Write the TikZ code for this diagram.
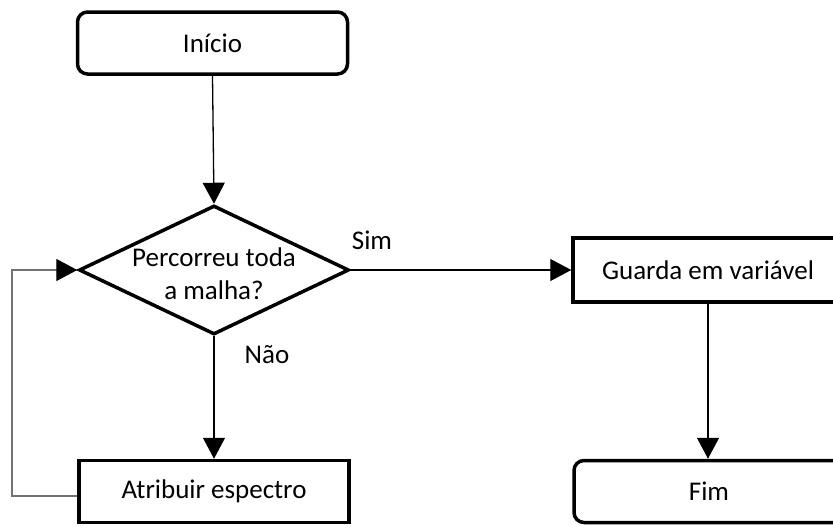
\documentclass[tikz,border=0pt]{standalone}
\usepackage{fontspec}
\setmainfont{Carlito}
\usetikzlibrary{shapes.geometric,arrows.meta}
\begin{document}
\begin{tikzpicture}[x=1pt,y=-1pt,
  font=\fontsize{27}{33}\selectfont,
  box/.style={draw, line width=3.5pt, fill=white, rectangle, minimum width=270pt, minimum height=62pt, inner sep=0pt},
  roundbox/.style={box, rounded corners=10pt},
  decision/.style={draw, line width=3.5pt, fill=white, diamond, minimum width=270pt, minimum height=129pt, inner sep=0pt},
  flow/.style={line width=1.3pt, -{Triangle[length=21pt,width=22pt,color=black]}},
  loopline/.style={flow, draw=black!55},
  tag/.style={inner sep=0pt}]
\useasboundingbox (0,0) rectangle (833,525);
\clip (0,0) rectangle (833,525);

\node[roundbox] (start) at (212.5,43) {Início};
\node[decision, label={[align=center, yshift=-4pt]center:Percorreu toda\\a malha?}] (dec) at (214,270) {};
\node[box, minimum height=64pt] (keep) at (708,270) {Guarda em variável};
\node[box] (assign) at (214,491.5) {Atribuir espectro};
\node[roundbox] (finish) at (709,491.5) {Fim};

\coordinate (bend) at (12,496);

\draw[flow] (start.south) -- (dec.north);
\draw[flow] (dec.east) -- (keep.west);
\draw[flow] (dec.south) -- (assign.north);
\draw[flow] (keep.south) -- (keep.south |- finish.north);
\draw[loopline] (assign.west |- bend) -- (bend) |- (dec.west);

\node[tag] (yes) at (372,240) {Sim};
\node[tag] (no) at (267,355) {Não};
\end{tikzpicture}
\end{document}
